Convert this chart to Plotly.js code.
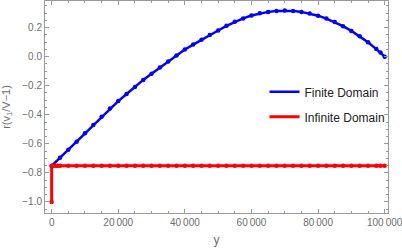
<!DOCTYPE html>
<html>
<head>
<meta charset="utf-8">
<script src="https://cdn.plot.ly/plotly-3.0.1.min.js"></script>
<style>html,body{margin:0;padding:0;background:#fff;}#chart{width:402px;height:249px;}</style>
</head>
<body>
<div id="chart"></div>
<script>
// Finite Domain series
var finiteX = [0, 2500, 5000, 7500, 10000, 12500, 15000, 17500, 20000, 22500, 25000, 27500, 30000, 32500, 35000, 37500, 40000, 42500, 45000, 47500, 50000, 52500, 55000, 57500, 60000, 62500, 65000, 67500, 70000, 72500, 75000, 77500, 80000, 82500, 85000, 87500, 90000, 92500, 95000, 97500, 98750, 100000];
var finiteY = [-0.752, -0.696, -0.640, -0.585, -0.528, -0.471, -0.414, -0.357, -0.306, -0.257, -0.208, -0.160, -0.117, -0.075, -0.034, 0.008, 0.049, 0.083, 0.117, 0.149, 0.180, 0.212, 0.240, 0.263, 0.283, 0.298, 0.308, 0.315, 0.317, 0.315, 0.308, 0.297, 0.282, 0.262, 0.238, 0.210, 0.177, 0.140, 0.099, 0.052, 0.028, 0.000];
// Infinite Domain series
var infiniteX = [0, 0, 625, 1250, 1875, 2500, 5000, 7500, 10000, 12500, 15000, 17500, 20000, 22500, 25000, 27500, 30000, 32500, 35000, 37500, 40000, 42500, 45000, 47500, 50000, 52500, 55000, 57500, 60000, 62500, 65000, 67500, 70000, 72500, 75000, 77500, 80000, 82500, 85000, 87500, 90000, 92500, 95000, 97500, 98750, 100000];
var infiniteY = [-1.0, -0.75, -0.75, -0.75, -0.75, -0.75, -0.75, -0.75, -0.75, -0.75, -0.75, -0.75, -0.75, -0.75, -0.75, -0.75, -0.75, -0.75, -0.75, -0.75, -0.75, -0.75, -0.75, -0.75, -0.75, -0.75, -0.75, -0.75, -0.75, -0.75, -0.75, -0.75, -0.75, -0.75, -0.75, -0.75, -0.75, -0.75, -0.75, -0.75, -0.75, -0.75, -0.75, -0.75, -0.75, -0.75];
var seriesNames = ["Finite Domain", "Infinite Domain"];
var seriesColors = ["#0000ff", "#ff0000"];
var yTickVals = [-1.0, -0.8, -0.6, -0.4, -0.2, 0.0, 0.2];
var xTickVals = [0, 20000, 40000, 60000, 80000, 100000];
var xTitle = "y";
var yTitle = "r(v<sub>1</sub>/V\u22121)";

var traces = [
  {x: finiteX, y: finiteY, mode: "lines", name: seriesNames[0], legendgroup: "a",
   line: {color: seriesColors[0], width: 2.5}},
  {x: infiniteX, y: infiniteY, mode: "lines", name: seriesNames[1], legendgroup: "b",
   line: {color: seriesColors[1], width: 3}},
  {x: finiteX, y: finiteY, mode: "markers", showlegend: false, hoverinfo: "skip",
   marker: {color: seriesColors[0], size: 4.5}},
  {x: infiniteX, y: infiniteY, mode: "markers", showlegend: false, hoverinfo: "skip",
   marker: {color: seriesColors[1], size: 4.5}}
];

var axisCommon = {
  showgrid: false, zeroline: false, showline: true, linecolor: "#9a9a9a", linewidth: 1,
  mirror: "ticks", ticks: "inside", ticklen: 4, tickcolor: "#9a9a9a", tickwidth: 1,
  ticklabeloverflow: "allow",
  tickfont: {family: "Liberation Sans, Arial, sans-serif", size: 10, color: "#6e6e6e"}
};

var layout = {
  width: 402, height: 249,
  margin: {l: 45, r: 14, t: 1, b: 36},
  paper_bgcolor: "#fff", plot_bgcolor: "#fff",
  separators: ".\u2009",
  showlegend: true,
  legend: {x: 0.64, y: 0.64, xanchor: "left", yanchor: "top", bgcolor: "rgba(0,0,0,0)",
    traceorder: "grouped", tracegroupgap: 6,
    font: {family: "Liberation Sans, Arial, sans-serif", size: 12, color: "#222"}},
  xaxis: Object.assign({}, axisCommon, {
    range: [-2000, 101000], tickvals: xTickVals, tickformat: ",d",
    minor: {ticks: "inside", ticklen: 2, tickcolor: "#9a9a9a", dtick: 5000, tick0: 0},
    title: {text: xTitle, standoff: 8, font: {family: "Liberation Sans, Arial, sans-serif", size: 12, color: "#6e6e6e"}}
  }),
  yaxis: Object.assign({}, axisCommon, {
    range: [-1.076, 0.383], tickvals: yTickVals, tickformat: ".1f",
    minor: {ticks: "inside", ticklen: 2, tickcolor: "#9a9a9a", dtick: 0.05, tick0: 0},
    title: {text: yTitle, standoff: 10, font: {family: "Liberation Sans, Arial, sans-serif", size: 11, color: "#6e6e6e"}}
  })
};

Plotly.newPlot("chart", traces, layout, {staticPlot: true, displayModeBar: false});
</script>
</body>
</html>
